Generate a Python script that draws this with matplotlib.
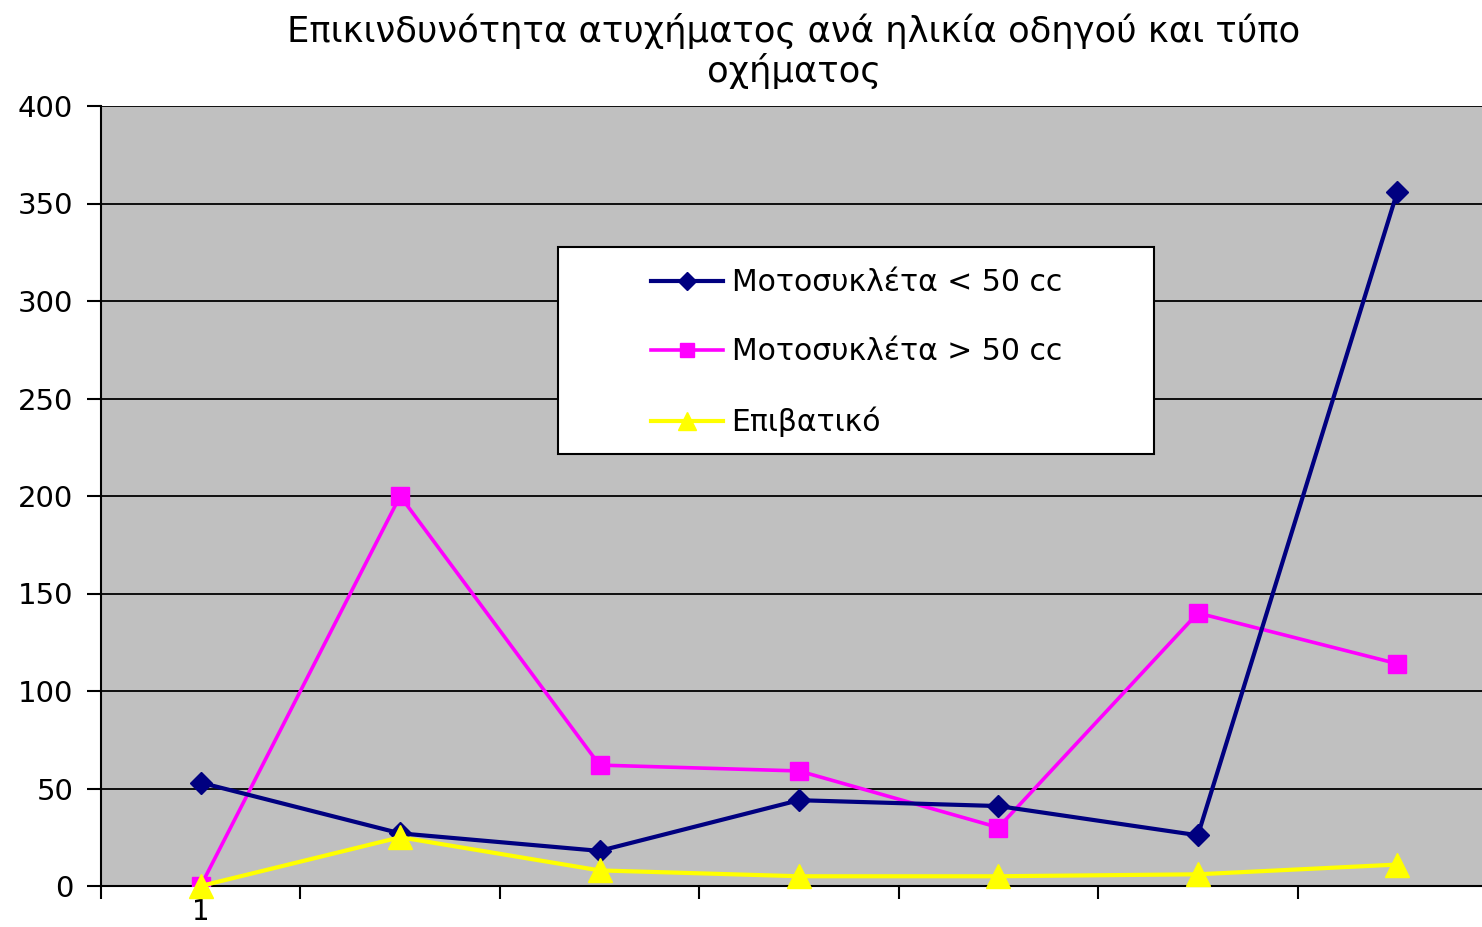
import matplotlib
matplotlib.use("Agg")
import matplotlib.pyplot as plt
from matplotlib.patches import Rectangle
import numpy as np

plt.rcParams['font.family'] = ['DejaVu Sans']

title = "Επικινδυνότητα ατυχήματος ανά ηλικία οδηγού και τύπο\nοχήματος"
categories = ["1", "", "", "", "", "", ""]
series_names = ["Μοτοσυκλέτα < 50 cc", "Μοτοσυκλέτα > 50 cc", "Επιβατικό"]
moto_small = [53, 27, 18, 44, 41, 26, 356]
moto_large = [0, 200, 62, 59, 30, 140, 114]
car = [0, 25, 8, 5, 5, 6, 11]
yticks = [0, 50, 100, 150, 200, 250, 300, 350, 400]

W, H = 1482, 927
fig = plt.figure(figsize=(W / 100, H / 100), dpi=100)
ax = fig.add_axes([101 / W, 1 - 886 / H, (1497 - 101) / W, (886 - 106) / H])
ax.set_facecolor('#C0C0C0')

x = np.arange(len(categories))
ax.plot(x, moto_small, color='#000080', lw=3, marker='D', ms=11, label=series_names[0], zorder=4)
ax.plot(x, moto_large, color='#FF00FF', lw=2.6, marker='s', ms=13, label=series_names[1], zorder=3)
ax.plot(x, car, color='#FFFF00', lw=3, marker='^', ms=17, label=series_names[2], zorder=5, clip_on=False)

ax.set_xlim(-0.5, len(categories) - 0.5)
ax.set_ylim(0, 400)
ax.set_yticks(yticks)
ax.set_yticklabels([str(v) for v in yticks], fontsize=21)
ax.yaxis.grid(True, color='black', lw=1.3)
ax.set_axisbelow(True)

bounds = np.arange(len(categories) + 1) - 0.5
ax.set_xticks(bounds)
ax.set_xticklabels([""] * len(bounds))
ax.set_xticks(x, labels=categories, minor=True)
ax.tick_params(axis='x', which='minor', length=0, labelsize=20, pad=9)
ax.tick_params(axis='x', which='major', length=9, width=1.5, direction='out')
ax.tick_params(axis='y', length=10, width=1.5, pad=10, direction='out')

for s in ['top', 'right']:
    ax.spines[s].set_visible(False)
for s in ['left', 'bottom']:
    ax.spines[s].set_linewidth(1.5)

fig.text(794 / W, 1 - 51 / H, title, ha='center', va='center', fontsize=25.5, linespacing=1.15)

# legend box
fig.patches.append(Rectangle((558 / W, 1 - 454 / H), (1154 - 558) / W, (454 - 247) / H,
                             transform=fig.transFigure, facecolor='white', edgecolor='black',
                             lw=1.5, zorder=6))
leg = fig.legend(loc='upper left', bbox_to_anchor=(651 / W, 1 - 268 / H), frameon=False,
                 fontsize=21.5, handlelength=2.4, handletextpad=0.3, labelspacing=1.35,
                 borderpad=0, borderaxespad=0, markerscale=0.8)
leg.set_zorder(7)

fig.savefig("out.png", dpi=100)
